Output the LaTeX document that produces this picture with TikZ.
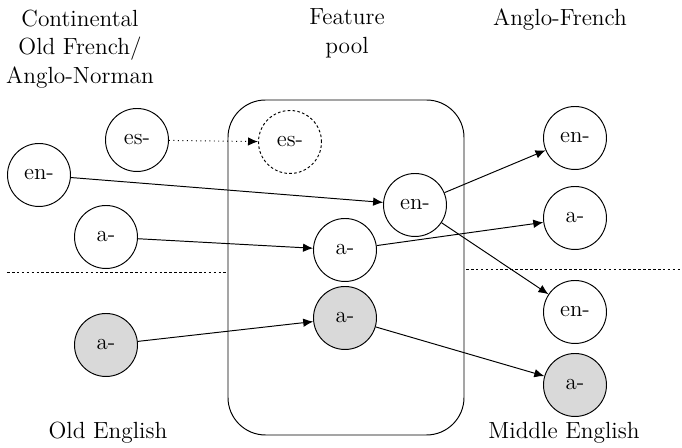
\documentclass[tikz,border=0pt]{standalone}
\usepackage{tikz}
\usetikzlibrary{arrows.meta,positioning,shapes.geometric}

\begin{document}
\begin{tikzpicture}[>={Latex[length=2mm,width=1.7mm]},line width=0.55pt,
  morph/.style={draw,circle,minimum size=1.26cm,inner sep=0pt,font=\fontsize{13}{15}\selectfont},
  oldmorph/.style={morph,fill=black!15},
  lost/.style={morph,dash pattern=on 1.5pt off 1.3pt},
  period/.style={align=center,font=\fontsize{13.3}{16.3}\selectfont},
  split/.style={dash pattern=on 1.5pt off 1.3pt}]
\useasboundingbox (0,0) rectangle (13.64,-8.96);
% feature pool box
\draw[rounded corners=0.75cm] (4.56,-2.0) rectangle (9.28,-8.7);
% period labels
\node[period] (cof) at (1.6,-0.98) {Continental\\Old French/\\Anglo-Norman};
\node[period] (pool) at (6.94,-0.66) {Feature\\pool};
\node[period] (af) at (11.2,-0.4) {Anglo-French};
\node[period] (oe) at (2.16,-8.66) {Old English};
\node[period] (me) at (11.28,-8.66) {Middle English};
% boundary lines
\coordinate (s1) at (0.14,-5.44);
\coordinate (s2) at (4.56,-5.44);
\coordinate (s3) at (9.32,-5.38);
\coordinate (s4) at (13.64,-5.38);
\draw[split] (s1) -- (s2);
\draw[split] (s3) -- (s4);
% source forms
\node[morph] (esL) at (2.74,-2.8) {es-};
\node[morph] (enL) at (0.78,-3.5) {en-};
\node[morph] (aL) at (2.12,-4.74) {a-};
\node[oldmorph] (aOE) at (2.12,-6.9) {a-};
% pool
\node[lost] (esP) at (5.8,-2.84) {es-};
\node[morph] (enP) at (8.3,-4.1) {en-};
\node[morph] (aP) at (6.9,-5.0) {a-};
\node[oldmorph] (aPg) at (6.9,-6.36) {a-};
% results
\node[morph] (enAF) at (11.5,-2.76) {en-};
\node[morph] (aAF) at (11.5,-4.36) {a-};
\node[morph] (enME) at (11.5,-6.24) {en-};
\node[oldmorph] (aME) at (11.5,-7.7) {a-};
% connectors
\draw[->,dotted] (esL) -- (esP);
\draw[->] (enL) -- (enP);
\draw[->] (aL) -- (aP);
\draw[->] (aOE) -- (aPg);
\draw[->] (enP) -- (enAF);
\draw[->] (enP) -- (enME);
\draw[->] (aP) -- (aAF);
\draw[->] (aPg) -- (aME);
\end{tikzpicture}
\end{document}
